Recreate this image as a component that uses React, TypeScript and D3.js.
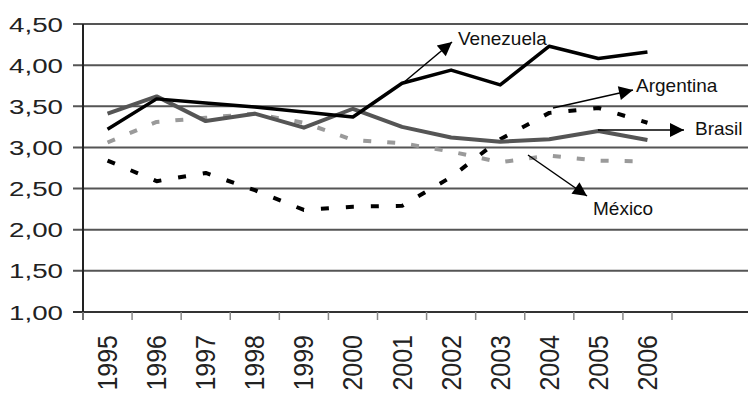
import React from "react";
import * as d3 from "d3";

const years = ["1995","1996","1997","1998","1999","2000","2001","2002","2003","2004","2005","2006"];
const venezuela = [3.22, 3.59, 3.54, 3.49, 3.43, 3.37, 3.78, 3.94, 3.76, 4.23, 4.08, 4.16];
const brasil = [3.41, 3.62, 3.32, 3.41, 3.24, 3.47, 3.25, 3.12, 3.07, 3.10, 3.20, 3.09];
const argentina = [2.84, 2.59, 2.69, 2.48, 2.24, 2.28, 2.29, 2.64, 3.10, 3.42, 3.48, 3.30];
const mexico = [3.06, 3.31, 3.36, 3.41, 3.30, 3.09, 3.05, 2.95, 2.82, 2.90, 2.84, 2.83];
const yTicks = [1, 1.5, 2, 2.5, 3, 3.5, 4, 4.5];

const W = 749, H = 393;

export default function App() {
  const x = d3.scaleBand<string>().domain(years).range([83, 672]);
  const y = d3.scaleLinear().domain([1, 4.5]).range([312, 24]);
  const cx = (i: number) => (x(years[i]) as number) + x.bandwidth() / 2;
  const line = d3.line<number>().x((_, i) => cx(i)).y((d) => y(d));
  const fmt = (v: number) => v.toFixed(2).replace(".", ",");
  const boundaries = d3.range(years.length + 1).map((i) => 83 + i * x.bandwidth());

  const series = [
    { data: mexico, color: "#9a9a9a", width: 4, dash: "8,16" },
    { data: argentina, color: "#000", width: 4, dash: "8,17" },
    { data: brasil, color: "#555", width: 4, dash: undefined },
    { data: venezuela, color: "#000", width: 3.5, dash: undefined },
  ];

  const arrows = [
    { from: [403, 83], to: [452, 42], label: "Venezuela", lx: 458, ly: 45 },
    { from: [553, 108], to: [633, 90], label: "Argentina", lx: 636, ly: 92 },
    { from: [598, 130], to: [684, 130], label: "Brasil", lx: 695, ly: 135 },
    { from: [528, 155], to: [587, 196], label: "México", lx: 593, ly: 215 },
  ];

  return (
    <div style={{ position: "absolute", left: 0, top: 0 }}>
      <svg width={W} height={H} style={{ display: "block", background: "#fff" }} fontFamily="'Liberation Sans', Arial, sans-serif">
        <defs>
          <marker id="ah" viewBox="0 0 10 10" refX="10" refY="5" markerWidth="16" markerHeight="14" markerUnits="userSpaceOnUse" orient="auto">
            <path d="M0,0 L10,5 L0,10 z" fill="#000" />
          </marker>
        </defs>
        {yTicks.map((t) => (
          <g key={t}>
            <line x1={73} x2={748} y1={y(t)} y2={y(t)} stroke={t === 1 ? "#333" : "#555"} strokeWidth={2} />
            <text transform={`translate(63,${y(t) + 7.5}) scale(1.32,1)`} textAnchor="end" fontSize={21} fill="#222">{fmt(t)}</text>
          </g>
        ))}
        <line x1={83} x2={83} y1={24} y2={320} stroke="#222" strokeWidth={2} />
        {boundaries.map((b, i) => (
          <line key={i} x1={b} x2={b} y1={312} y2={320} stroke="#888" strokeWidth={1.5} />
        ))}
        {years.map((yr, i) => (
          <text key={yr} transform={`translate(${cx(i) + 9.5},335) rotate(-90) scale(1,1.08)`} textAnchor="end" fontSize={25} fill="#222">{yr}</text>
        ))}
        {series.map((s, k) => (
          <path key={k} d={line(s.data) || ""} fill="none" stroke={s.color} strokeWidth={s.width} strokeDasharray={s.dash} strokeLinejoin="round" />
        ))}
        {arrows.map((a) => (
          <g key={a.label}>
            <line x1={a.from[0]} y1={a.from[1]} x2={a.to[0]} y2={a.to[1]} stroke="#000" strokeWidth={1.5} markerEnd="url(#ah)" />
            <text x={a.lx} y={a.ly} fontSize={19} fill="#111">{a.label}</text>
          </g>
        ))}
      </svg>
    </div>
  );
}
